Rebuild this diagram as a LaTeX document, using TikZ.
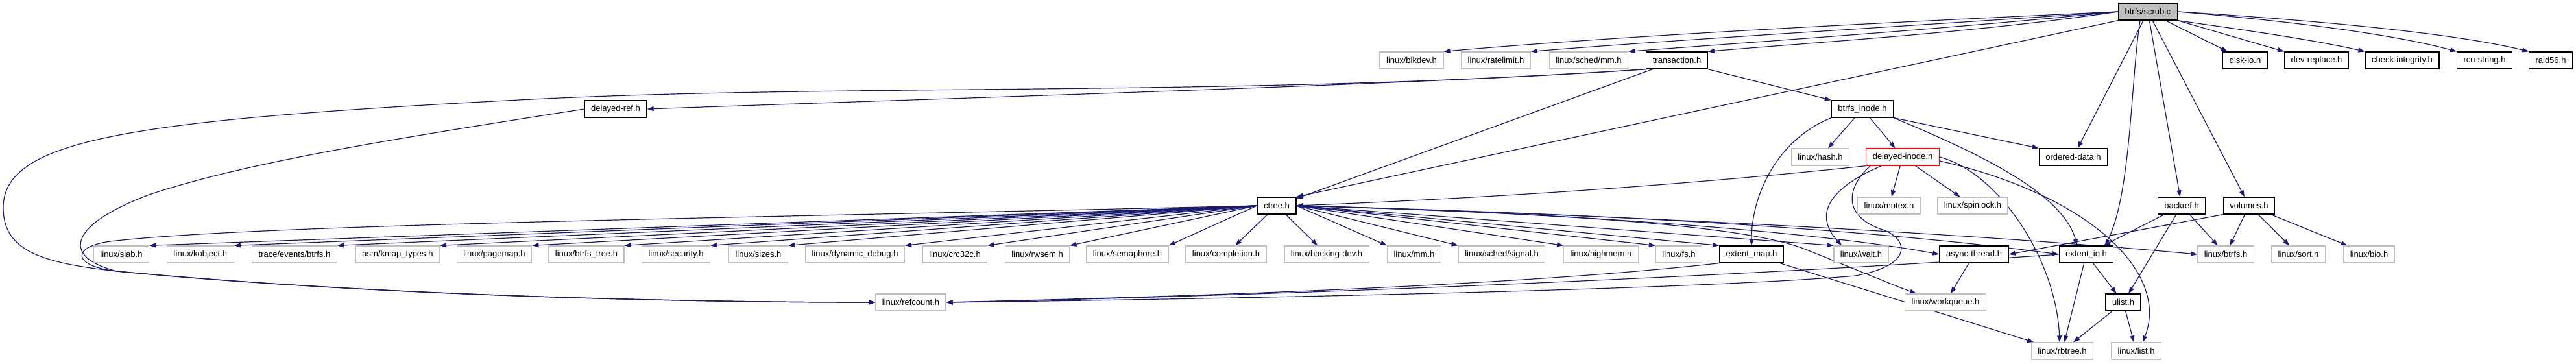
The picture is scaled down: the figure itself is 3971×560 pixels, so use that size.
\documentclass[tikz,border=0pt]{standalone}
\usepackage{fontspec}
\setmainfont{Liberation Sans}
\usepackage{tikz}
\usetikzlibrary{arrows.meta, backgrounds}
\definecolor{edgeblue}{HTML}{191970}
\definecolor{extgray}{HTML}{BFBFBF}
\definecolor{mainfill}{HTML}{BFBFBF}

\begin{document}
\begin{tikzpicture}[
    x=1pt, y=-1pt,
    font=\fontsize{13}{15}\selectfont,
    hdr/.style={draw=#1, line width=1.3pt, fill=white, minimum height=26pt,
                inner xsep=10pt, inner ysep=0pt},
    dep/.style={-{Triangle[length=10pt, width=7pt]}, edgeblue, line width=1.2pt},
  ]
  \useasboundingbox (0,0) rectangle (3971,560);

  % the source file
  \node[hdr=black, fill=mainfill] (scrub) at (3311,18) {btrfs/scrub.c};

  % direct includes
  \node[hdr=extgray] (blkdev) at (2176,93) {linux/blkdev.h};
  \node[hdr=extgray] (ratelimit) at (2306,93) {linux/ratelimit.h};
  \node[hdr=extgray] (schedmm) at (2449,93) {linux/sched/mm.h};
  \node[hdr=black] (transaction) at (2585,93) {transaction.h};
  \node[hdr=black] (diskio) at (3461,93) {disk-io.h};
  \node[hdr=black] (devreplace) at (3571,93) {dev-replace.h};
  \node[hdr=black] (checkint) at (3703,93) {check-integrity.h};
  \node[hdr=black] (rcustring) at (3830,93) {rcu-string.h};
  \node[hdr=black] (raid) at (3932,93) {raid56.h};

  \node[hdr=black] (delayedref) at (949,168) {delayed-ref.h};
  \node[hdr=black] (btrfsinode) at (2871,168) {btrfs\_inode.h};

  \node[hdr=extgray] (hash) at (2806,242) {linux/hash.h};
  \node[hdr=red] (delayedinode) at (2933,242) {delayed-inode.h};
  \node[hdr=black] (ordered) at (3196,242) {ordered-data.h};

  \node[hdr=black] (ctree) at (1968,317) {ctree.h};
  \node[hdr=extgray] (mutex) at (2912,317) {linux/mutex.h};
  \node[hdr=extgray] (spinlock) at (3041,317) {linux/spinlock.h};
  \node[hdr=black] (backref) at (3363,317) {backref.h};
  \node[hdr=black] (volumes) at (3467,317) {volumes.h};

  % headers pulled in by ctree.h
  \node[hdr=extgray] (slab) at (187,392) {linux/slab.h};
  \node[hdr=extgray] (kobject) at (309,392) {linux/kobject.h};
  \node[hdr=extgray] (trace) at (454,392) {trace/events/btrfs.h};
  \node[hdr=extgray] (kmap) at (613,392) {asm/kmap\_types.h};
  \node[hdr=extgray] (pagemap) at (762,392) {linux/pagemap.h};
  \node[hdr=extgray] (btrfstree) at (904,392) {linux/btrfs\_tree.h};
  \node[hdr=extgray] (security) at (1042,392) {linux/security.h};
  \node[hdr=extgray] (sizes) at (1169,392) {linux/sizes.h};
  \node[hdr=extgray] (dyndebug) at (1318,392) {linux/dynamic\_debug.h};
  \node[hdr=extgray] (crc) at (1472,392) {linux/crc32c.h};
  \node[hdr=extgray] (rwsem) at (1599,392) {linux/rwsem.h};
  \node[hdr=extgray] (semaphore) at (1738,392) {linux/semaphore.h};
  \node[hdr=extgray] (completion) at (1890,392) {linux/completion.h};
  \node[hdr=extgray] (backingdev) at (2045,392) {linux/backing-dev.h};
  \node[hdr=extgray] (mm) at (2180,392) {linux/mm.h};
  \node[hdr=extgray] (signal) at (2315,392) {linux/sched/signal.h};
  \node[hdr=extgray] (highmem) at (2468,392) {linux/highmem.h};
  \node[hdr=extgray] (fs) at (2588,392) {linux/fs.h};
  \node[hdr=black] (extentmap) at (2700,392) {extent\_map.h};
  \node[hdr=extgray] (wait) at (2869,392) {linux/wait.h};
  \node[hdr=black] (async) at (3043,392) {async-thread.h};
  \node[hdr=black] (extentio) at (3216,392) {extent\_io.h};
  \node[hdr=extgray] (lbtrfs) at (3431,392) {linux/btrfs.h};
  \node[hdr=extgray] (sort) at (3543,392) {linux/sort.h};
  \node[hdr=extgray] (bio) at (3652,392) {linux/bio.h};

  \node[hdr=extgray] (refcount) at (1404,466) {linux/refcount.h};
  \node[hdr=extgray] (workqueue) at (2999,466) {linux/workqueue.h};
  \node[hdr=black] (ulist) at (3273,466) {ulist.h};

  \node[hdr=extgray] (rbtree) at (3179,541) {linux/rbtree.h};
  \node[hdr=extgray] (list) at (3293,541) {linux/list.h};

  \begin{scope}[on background layer]
    % btrfs/scrub.c
    \draw[dep] (scrub.west) .. controls (2900,35) and (2500,55) .. (blkdev.north east);
    \draw[dep] (scrub.west) .. controls (2950,40) and (2600,60) .. (ratelimit.north east);
    \draw[dep] (scrub.west) .. controls (3000,45) and (2700,65) .. (schedmm.north east);
    \draw[dep] (scrub.west) .. controls (3050,50) and (2800,65) .. (transaction.north east);
    \draw[dep] (scrub) -- (diskio);
    \draw[dep] (scrub.south east) -- (devreplace.north west);
    \draw[dep] (scrub.south east) .. controls (3450,45) and (3560,60) .. (checkint.north west);
    \draw[dep] (scrub.east) .. controls (3500,30) and (3680,50) .. (rcustring.north west);
    \draw[dep] (scrub.east) .. controls (3550,30) and (3780,50) .. (raid.north west);
    \draw[dep] (scrub.south west) -- (ctree.north east);
    \draw[dep] (scrub) -- (ordered);
    \draw[dep] ([xshift=-12pt]scrub.south) .. controls (3285,120) and (3285,300)
      .. ([xshift=29pt]extentio.north);
    \draw[dep] (scrub) -- (backref);
    \draw[dep] (scrub) -- (volumes);

    % transaction.h
    \draw[dep] (transaction.south west) .. controls (2200,130) and (1500,150) .. (delayedref.east);
    \draw[dep] (transaction.south west) .. controls (1900,150) and (1300,128) .. (800,154)
      .. controls (200,185) and (5,215) .. (5,320)
      .. controls (5,385) and (60,405) .. (180,418)
      .. controls (600,458) and (1100,466) .. (refcount.west);
    \draw[dep] (transaction) -- (ctree);
    \draw[dep] (transaction.south east) -- (btrfsinode.north west);

    % delayed-ref.h
    \draw[dep] (delayedref.west) .. controls (600,215) and (380,250) .. (230,300)
      .. controls (110,345) and (90,395) .. (180,418)
      .. controls (600,458) and (1100,466) .. (refcount.west);

    % btrfs_inode.h
    \draw[dep] (btrfsinode) -- (hash);
    \draw[dep] (btrfsinode) -- (delayedinode);
    \draw[dep] (btrfsinode.south east) -- (ordered.north west);
    \draw[dep] (btrfsinode.south west) .. controls (2740,215) and (2700,300) .. (extentmap.north);
    \draw[dep] (btrfsinode.south east) .. controls (3060,240) and (3180,300)
      .. ([xshift=-14pt]extentio.north);

    % delayed-inode.h
    \draw[dep] (delayedinode.south west) .. controls (2600,285) and (2300,305) .. (ctree.east);
    \draw[dep] (delayedinode) -- (mutex);
    \draw[dep] (delayedinode) -- (spinlock);
    \draw[dep] ([xshift=-33pt]delayedinode.south) .. controls (2820,290) and (2795,330)
      .. ([xshift=-30pt]wait.north);
    \draw[dep] ([xshift=-50pt]delayedinode.south) .. controls (2845,290) and (2840,335) .. (2905,355)
      .. controls (2945,372) and (2945,410) .. (2860,425)
      .. controls (2600,448) and (1800,462) .. (refcount.east);
    \draw[dep] (delayedinode.east) .. controls (3080,265) and (3170,400) .. ([xshift=-4pt]rbtree.north);
    \draw[dep] ([yshift=-6pt]delayedinode.east) .. controls (3220,300) and (3345,420)
      .. ([xshift=10pt]list.north);

    % ctree.h
    \draw[dep] (ctree.west) .. controls (1200,335) and (400,345) .. (170,372)
      .. controls (110,380) and (110,410) .. (180,418)
      .. controls (600,458) and (1100,466) .. (refcount.west);
    \draw[dep] (ctree.west) -- (slab.north east);
    \draw[dep] (ctree.west) -- (kobject.north east);
    \draw[dep] (ctree.west) -- (trace.north east);
    \draw[dep] (ctree.west) -- (kmap.north east);
    \draw[dep] (ctree.west) -- (pagemap.north east);
    \draw[dep] (ctree.west) -- (btrfstree.north east);
    \draw[dep] (ctree.west) -- (security.north east);
    \draw[dep] (ctree.west) -- (sizes.north east);
    \draw[dep] (ctree.west) -- (dyndebug.north east);
    \draw[dep] (ctree.west) -- (crc.north east);
    \draw[dep] (ctree.west) -- (rwsem.north east);
    \draw[dep] (ctree.west) -- (semaphore.north east);
    \draw[dep] (ctree) -- (completion);
    \draw[dep] (ctree) -- (backingdev);
    \draw[dep] (ctree.east) -- (mm.north west);
    \draw[dep] (ctree.east) -- (signal.north west);
    \draw[dep] (ctree.east) -- (highmem.north west);
    \draw[dep] (ctree.east) -- (fs.north west);
    \draw[dep] (ctree.east) -- (extentmap.north west);
    \draw[dep] (ctree.east) -- (wait.north west);
    \draw[dep] (ctree.east) .. controls (2450,330) and (2700,350) .. (2785,385)
      .. controls (2860,415) and (2920,440) .. ([xshift=-45pt]workqueue.north);
    \draw[dep] (ctree.east) .. controls (2500,330) and (2850,365) .. (async.west);
    \draw[dep] (ctree.east) .. controls (2500,330) and (2900,355) .. (extentio.west);
    \draw[dep] (ctree.east) .. controls (2600,335) and (3100,365) .. (lbtrfs.west);

    % the rest
    \draw[dep] (extentmap) -- (rbtree);
    \draw[dep] (extentmap.south west) .. controls (2300,445) and (1700,460) .. (refcount.east);
    \draw[dep] (extentio.west) .. controls (2700,425) and (2000,455) .. (refcount.east);
    \draw[dep] (extentio) -- (ulist);
    \draw[dep] (extentio) -- (rbtree);
    \draw[dep] (ulist) -- (rbtree);
    \draw[dep] (ulist) -- (list);
    \draw[dep] (async) -- (workqueue);
    \draw[dep] (backref) -- (extentio);
    \draw[dep] (backref) -- (ulist);
    \draw[dep] (backref) -- (lbtrfs);
    \draw[dep] (volumes.south west) -- (async.east);
    \draw[dep] (volumes) -- (lbtrfs);
    \draw[dep] (volumes) -- (sort);
    \draw[dep] (volumes) -- (bio);
  \end{scope}
\end{tikzpicture}
\end{document}
